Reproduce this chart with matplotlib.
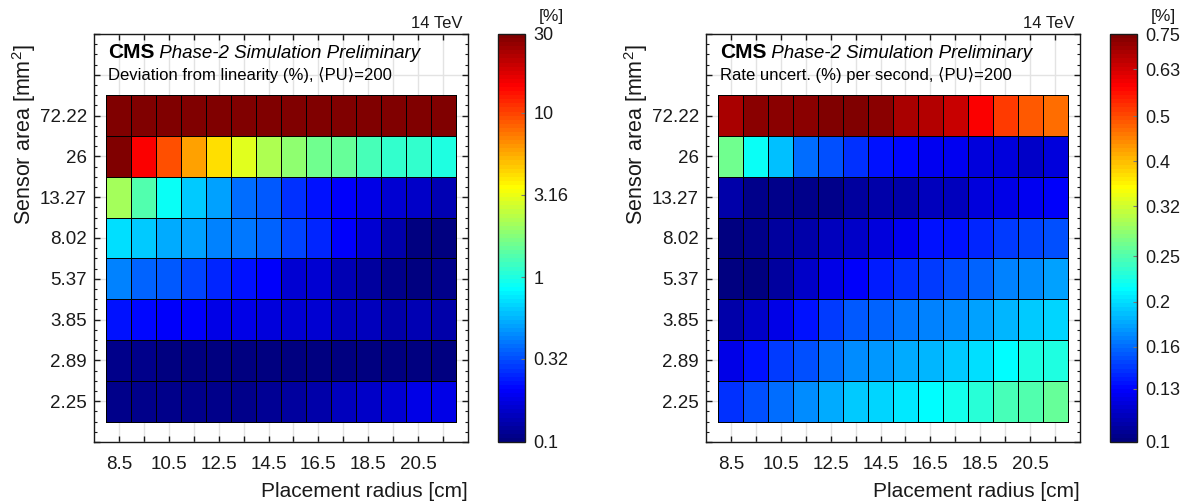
import numpy as np
import matplotlib
matplotlib.use("Agg")
import matplotlib.pyplot as plt
from matplotlib.colors import LinearSegmentedColormap, LogNorm
from matplotlib.ticker import FixedLocator, AutoMinorLocator, NullLocator

plt.rcParams['font.family'] = ['Liberation Sans', 'DejaVu Sans']
plt.rcParams['mathtext.fontset'] = 'custom'
plt.rcParams['mathtext.rm'] = 'Liberation Sans'
plt.rcParams['mathtext.it'] = 'Liberation Sans:italic'
plt.rcParams['mathtext.bf'] = 'Liberation Sans:bold'

# ---------------- data ----------------
radius = [8.5, 9.5, 10.5, 11.5, 12.5, 13.5, 14.5, 15.5, 16.5, 17.5, 18.5, 19.5, 20.5, 21.5]
radius_labels = ['8.5', '', '10.5', '', '12.5', '', '14.5', '', '16.5', '', '18.5', '', '20.5', '']
sensor_area = ['2.25', '2.89', '3.85', '5.37', '8.02', '13.27', '26', '72.22']

# Deviation from linearity (%), rows from 2.25 (bottom) to 72.22 (top)
dev_225 = [0.107, 0.107, 0.106, 0.106, 0.106, 0.110, 0.113, 0.119, 0.130, 0.142, 0.154, 0.162, 0.177, 0.187]
dev_289 = [0.107, 0.106, 0.104, 0.104, 0.104, 0.103, 0.104, 0.103, 0.102, 0.101, 0.102, 0.104, 0.103, 0.104]
dev_385 = [0.235, 0.220, 0.204, 0.200, 0.182, 0.177, 0.172, 0.162, 0.158, 0.146, 0.142, 0.130, 0.134, 0.130]
dev_537 = [0.420, 0.357, 0.340, 0.300, 0.255, 0.228, 0.204, 0.167, 0.158, 0.138, 0.123, 0.107, 0.104, 0.107]
dev_802 = [0.716, 0.640, 0.540, 0.510, 0.430, 0.410, 0.357, 0.300, 0.255, 0.204, 0.158, 0.127, 0.100, 0.102]
dev_1327 = [2.14, 1.36, 0.92, 0.64, 0.50, 0.385, 0.335, 0.271, 0.228, 0.200, 0.177, 0.162, 0.150, 0.134]
dev_26 = [30.0, 14.7, 9.4, 6.0, 4.3, 3.0, 2.26, 1.91, 1.61, 1.49, 1.25, 1.13, 1.13, 1.0]
dev_7222 = [30.0, 30.0, 30.0, 30.0, 30.0, 30.0, 30.0, 30.0, 30.0, 30.0, 30.0, 30.0, 30.0, 30.0]

# Rate uncertainty (%) per second
rate_225 = [0.142, 0.152, 0.159, 0.169, 0.180, 0.192, 0.198, 0.206, 0.213, 0.221, 0.230, 0.247, 0.252, 0.262]
rate_289 = [0.124, 0.134, 0.144, 0.151, 0.161, 0.169, 0.173, 0.182, 0.185, 0.192, 0.202, 0.213, 0.226, 0.227]
rate_385 = [0.109, 0.116, 0.123, 0.134, 0.146, 0.154, 0.158, 0.163, 0.166, 0.169, 0.178, 0.185, 0.192, 0.198]
rate_537 = [0.100, 0.100, 0.108, 0.116, 0.124, 0.128, 0.136, 0.142, 0.146, 0.151, 0.158, 0.166, 0.171, 0.177]
rate_802 = [0.100, 0.103, 0.107, 0.110, 0.113, 0.117, 0.122, 0.127, 0.133, 0.134, 0.139, 0.145, 0.149, 0.151]
rate_1327 = [0.110, 0.104, 0.104, 0.103, 0.104, 0.107, 0.109, 0.110, 0.114, 0.115, 0.120, 0.123, 0.125, 0.128]
rate_26 = [0.265, 0.219, 0.187, 0.161, 0.151, 0.142, 0.135, 0.130, 0.127, 0.126, 0.122, 0.121, 0.117, 0.122]
rate_7222 = [0.689, 0.733, 0.733, 0.733, 0.748, 0.750, 0.733, 0.689, 0.670, 0.640, 0.580, 0.518, 0.482, 0.465]

dev_ticks = [0.1, 0.32, 1, 3.16, 10, 30]
dev_ticklabels = ['0.1', '0.32', '1', '3.16', '10', '30']
rate_ticks = [0.1, 0.13, 0.16, 0.2, 0.25, 0.32, 0.4, 0.5, 0.63, 0.75]
rate_ticklabels = ['0.1', '0.13', '0.16', '0.2', '0.25', '0.32', '0.4', '0.5', '0.63', '0.75']

dev = np.array([dev_225, dev_289, dev_385, dev_537, dev_802, dev_1327, dev_26, dev_7222])
rate = np.array([rate_225, rate_289, rate_385, rate_537, rate_802, rate_1327, rate_26, rate_7222])

# ---------------- style ----------------
jet = LinearSegmentedColormap.from_list(
    'mjet', [(0, (0, 0, 0.5)), (1/8, (0, 0, 1)), (3/8, (0, 1, 1)),
             (5/8, (1, 1, 0)), (7/8, (1, 0, 0)), (1, (0.5, 0, 0))], N=100)

W, H = 1181, 503
fig = plt.figure(figsize=(W/100, H/100), dpi=100)

def px_rect(x0, x1, ytop, ybot):
    return [x0/W, (H-ybot)/H, (x1-x0)/W, (ybot-ytop)/H]

panels = [
    dict(ax=px_rect(94, 468, 34, 442), cax=px_rect(498, 525, 34, 442), z=dev,
         vmin=0.1, vmax=30, ticks=dev_ticks, labels=dev_ticklabels,
         sub='Deviation from linearity (%), \u27e8PU\u27e9=200'),
    dict(ax=px_rect(706, 1080, 34, 442), cax=px_rect(1110, 1137, 34, 442), z=rate,
         vmin=0.1, vmax=0.75, ticks=rate_ticks, labels=rate_ticklabels,
         sub='Rate uncert. (%) per second, \u27e8PU\u27e9=200'),
]

r = np.array(radius)
xe = np.append(r - 0.5, r[-1] + 0.5)
yc = np.arange(len(sensor_area))
ye = np.append(yc - 0.5, yc[-1] + 0.5)
txtc = '#1a1a1a'

for p in panels:
    ax = fig.add_axes(p['ax'])
    norm = LogNorm(vmin=p['vmin'], vmax=p['vmax'])
    mesh = ax.pcolormesh(xe, ye, p['z'], cmap=jet, norm=norm,
                         edgecolors='black', linewidth=0.7, zorder=2)
    ax.set_xlim(r[0] - 1, r[-1] + 1)
    ax.set_ylim(yc[0] - 1, yc[-1] + 2)
    ax.xaxis.set_major_locator(FixedLocator(radius))
    ax.set_xticklabels(radius_labels)
    ax.yaxis.set_major_locator(FixedLocator(list(range(-1, len(sensor_area) + 2))))
    ax.set_yticklabels([''] + sensor_area + ['', ''])
    ax.yaxis.set_minor_locator(AutoMinorLocator(4))
    ax.tick_params(which='both', direction='in', top=True, right=True, colors=txtc,
                   labelcolor=txtc, labelsize=13.5)
    ax.tick_params(axis='x', which='major', length=4, width=1, pad=10)
    ax.tick_params(axis='y', which='major', length=4.5, width=1, pad=5)
    ax.tick_params(axis='y', which='minor', length=2.5, width=0.8)
    ax.grid(True, which='major', color='#e3e3e3', linewidth=1.0, zorder=0)
    ax.set_axisbelow(True)
    for s in ax.spines.values():
        s.set_color(txtc)
        s.set_linewidth(1.0)

    ax.text(-0.187, 0.975, 'Sensor area [mm$^2$]', transform=ax.transAxes,
            rotation=90, ha='center', va='top', fontsize=15.5, color=txtc)
    ax.text(1.0, -0.097, 'Placement radius [cm]', transform=ax.transAxes,
            ha='right', va='top', fontsize=15, color=txtc)
    ax.text(0.985, 1.014, '14 TeV', transform=ax.transAxes, ha='right', va='baseline',
            fontsize=12, color=txtc)
    cms = ax.text(0.037, 0.941, 'CMS', transform=ax.transAxes, ha='left', va='baseline',
                  fontsize=15, fontweight='bold', color='black')
    ax.annotate(' Phase-2 Simulation Preliminary', xy=(1, 0), xycoords=cms,
                ha='left', va='bottom', fontsize=13.5, style='italic', color='black')
    ax.text(0.037, 0.887, p['sub'], transform=ax.transAxes, ha='left', va='baseline',
            fontsize=12, color='black')

    cax = fig.add_axes(p['cax'])
    cb = fig.colorbar(mesh, cax=cax)
    cb.set_ticks(p['ticks'])
    cb.set_ticklabels(p['labels'])
    cax.yaxis.set_minor_locator(NullLocator())
    cax.tick_params(which='both', direction='in', length=3, width=0.8, colors='#777777',
                    labelcolor=txtc, labelsize=13, pad=6)
    cb.outline.set_edgecolor(txtc)
    cb.outline.set_linewidth(1.0)
    cax.text(1.96, 1.025, '[%]', transform=cax.transAxes, ha='center', va='bottom',
             fontsize=12.5, color=txtc)

fig.savefig('out.png', dpi=100)
